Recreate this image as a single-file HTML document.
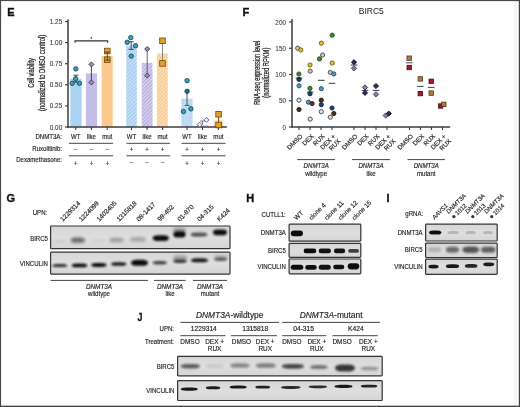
<!DOCTYPE html>
<html><head><meta charset="utf-8"><style>
html,body{margin:0;padding:0;background:#fff;}
svg{display:block;will-change:transform;}
text{font-family:"Liberation Sans", sans-serif;}
</style></head><body>
<svg width="520" height="407" viewBox="0 0 520 407">
<defs>
<pattern id="hb" width="2.6" height="2.6" patternUnits="userSpaceOnUse" patternTransform="rotate(45)"><rect width="2.6" height="2.6" fill="#cae3f8"/><rect width="1.2" height="2.6" fill="#9fc9ee"/></pattern>
<pattern id="hp" width="2.6" height="2.6" patternUnits="userSpaceOnUse" patternTransform="rotate(45)"><rect width="2.6" height="2.6" fill="#dcd6f0"/><rect width="1.2" height="2.6" fill="#b2aadf"/></pattern>
<pattern id="ho" width="2.6" height="2.6" patternUnits="userSpaceOnUse" patternTransform="rotate(45)"><rect width="2.6" height="2.6" fill="#fde3be"/><rect width="1.2" height="2.6" fill="#f7c588"/></pattern>
<pattern id="db" width="2.2" height="2.2" patternUnits="userSpaceOnUse" patternTransform="rotate(45)"><rect width="2.2" height="2.2" fill="#cfe5f8"/><rect width="1.1" height="1.1" fill="#a6cdee"/><rect x="1.1" y="1.1" width="1.1" height="1.1" fill="#b4d5f1"/></pattern>
<pattern id="do" width="2.2" height="2.2" patternUnits="userSpaceOnUse" patternTransform="rotate(45)"><rect width="2.2" height="2.2" fill="#fde4c0"/><rect width="1.1" height="1.1" fill="#f8ca8c"/><rect x="1.1" y="1.1" width="1.1" height="1.1" fill="#fad6a6"/></pattern>
<linearGradient id="bg" x1="0" y1="0" x2="0" y2="1"><stop offset="0" stop-color="#d6d6d6"/><stop offset="0.5" stop-color="#dedede"/><stop offset="1" stop-color="#d5d5d5"/></linearGradient>
<filter id="bl5" x="-50%" y="-100%" width="200%" height="300%"><feGaussianBlur stdDeviation="0.5"/></filter>
<filter id="bl6" x="-50%" y="-100%" width="200%" height="300%"><feGaussianBlur stdDeviation="0.6"/></filter>
<filter id="bl7" x="-50%" y="-100%" width="200%" height="300%"><feGaussianBlur stdDeviation="0.7"/></filter>
<filter id="bl8" x="-50%" y="-100%" width="200%" height="300%"><feGaussianBlur stdDeviation="0.8"/></filter>
<filter id="bl9" x="-50%" y="-100%" width="200%" height="300%"><feGaussianBlur stdDeviation="0.9"/></filter>
<filter id="bl10" x="-50%" y="-100%" width="200%" height="300%"><feGaussianBlur stdDeviation="1.0"/></filter>
<filter id="bl12" x="-50%" y="-100%" width="200%" height="300%"><feGaussianBlur stdDeviation="1.2"/></filter>
<filter id="bl13" x="-50%" y="-100%" width="200%" height="300%"><feGaussianBlur stdDeviation="1.3"/></filter>
<filter id="bl14" x="-50%" y="-100%" width="200%" height="300%"><feGaussianBlur stdDeviation="1.4"/></filter>
<filter id="bl15" x="-50%" y="-100%" width="200%" height="300%"><feGaussianBlur stdDeviation="1.5"/></filter>
<filter id="bl20" x="-50%" y="-100%" width="200%" height="300%"><feGaussianBlur stdDeviation="2.0"/></filter>
</defs>
<rect x="0" y="0" width="520" height="407" fill="#fff"/>
<rect x="514" y="0" width="3" height="407" fill="#f5f5f5"/>
<text font-size="11" text-anchor="start" font-weight="bold" fill="#111" stroke="#111" stroke-width="0.35" transform="translate(7.2 16.4)">E</text>
<rect x="70.30" y="78.70" width="11.30" height="48.30" fill="#acd3f2" stroke="none" stroke-width="0"/>
<rect x="85.90" y="73.30" width="11.10" height="53.70" fill="#c5bee6" stroke="none" stroke-width="0"/>
<rect x="101.60" y="55.80" width="11.10" height="71.20" fill="#fcc98c" stroke="none" stroke-width="0"/>
<rect x="126.20" y="45.50" width="10.60" height="81.50" fill="url(#hb)" stroke="none" stroke-width="0"/>
<rect x="141.70" y="62.90" width="10.80" height="64.10" fill="url(#hp)" stroke="none" stroke-width="0"/>
<rect x="156.90" y="53.50" width="10.90" height="73.50" fill="url(#ho)" stroke="none" stroke-width="0"/>
<rect x="181.30" y="98.60" width="11.30" height="28.40" fill="url(#db)" stroke="none" stroke-width="0"/>
<rect x="197.00" y="124.50" width="11.00" height="2.50" fill="#ddd8f0" stroke="none" stroke-width="0"/>
<rect x="213.60" y="120.30" width="9.80" height="6.70" fill="url(#do)" stroke="none" stroke-width="0"/>
<line x1="68" y1="19.4" x2="68" y2="127.6" stroke="#3c3c3c" stroke-width="1.5"/>
<line x1="67.3" y1="127" x2="226.8" y2="127" stroke="#3c3c3c" stroke-width="1.4"/>
<line x1="65.0" y1="127.0" x2="68" y2="127.0" stroke="#3c3c3c" stroke-width="1.2"/>
<text font-size="6.4" text-anchor="end" fill="#333" stroke="#333" stroke-width="0.08" transform="translate(62.2 129.5)">0.00</text>
<line x1="65.0" y1="105.9" x2="68" y2="105.9" stroke="#3c3c3c" stroke-width="1.2"/>
<text font-size="6.4" text-anchor="end" fill="#333" stroke="#333" stroke-width="0.08" transform="translate(62.2 108.4)">0.25</text>
<line x1="65.0" y1="84.8" x2="68" y2="84.8" stroke="#3c3c3c" stroke-width="1.2"/>
<text font-size="6.4" text-anchor="end" fill="#333" stroke="#333" stroke-width="0.08" transform="translate(62.2 87.3)">0.50</text>
<line x1="65.0" y1="63.699999999999996" x2="68" y2="63.699999999999996" stroke="#3c3c3c" stroke-width="1.2"/>
<text font-size="6.4" text-anchor="end" fill="#333" stroke="#333" stroke-width="0.08" transform="translate(62.2 66.19999999999999)">0.75</text>
<line x1="65.0" y1="42.599999999999994" x2="68" y2="42.599999999999994" stroke="#3c3c3c" stroke-width="1.2"/>
<text font-size="6.4" text-anchor="end" fill="#333" stroke="#333" stroke-width="0.08" transform="translate(62.2 45.099999999999994)">1.00</text>
<line x1="65.0" y1="21.5" x2="68" y2="21.5" stroke="#3c3c3c" stroke-width="1.2"/>
<text font-size="6.4" text-anchor="end" fill="#333" stroke="#333" stroke-width="0.08" transform="translate(62.2 24.0)">1.25</text>
<line x1="75.8" y1="127" x2="75.8" y2="130.0" stroke="#3c3c3c" stroke-width="1.1"/>
<line x1="91.4" y1="127" x2="91.4" y2="130.0" stroke="#3c3c3c" stroke-width="1.1"/>
<line x1="107.2" y1="127" x2="107.2" y2="130.0" stroke="#3c3c3c" stroke-width="1.1"/>
<line x1="131.5" y1="127" x2="131.5" y2="130.0" stroke="#3c3c3c" stroke-width="1.1"/>
<line x1="147.0" y1="127" x2="147.0" y2="130.0" stroke="#3c3c3c" stroke-width="1.1"/>
<line x1="162.6" y1="127" x2="162.6" y2="130.0" stroke="#3c3c3c" stroke-width="1.1"/>
<line x1="187.0" y1="127" x2="187.0" y2="130.0" stroke="#3c3c3c" stroke-width="1.1"/>
<line x1="202.5" y1="127" x2="202.5" y2="130.0" stroke="#3c3c3c" stroke-width="1.1"/>
<line x1="218.4" y1="127" x2="218.4" y2="130.0" stroke="#3c3c3c" stroke-width="1.1"/>
<text font-size="8.8" text-anchor="middle" fill="#222" stroke="#222" stroke-width="0.25" transform="translate(34.0 72.9) rotate(-90)" textLength="29.5" lengthAdjust="spacingAndGlyphs">Cell viability</text>
<text font-size="8.8" text-anchor="middle" fill="#222" stroke="#222" stroke-width="0.25" transform="translate(44.8 72.9) rotate(-90)" textLength="76" lengthAdjust="spacingAndGlyphs">(normalized to DMSO control)</text>
<path d="M75 42.8V40.9H107.6V42.8" fill="none" stroke="#333" stroke-width="1.1"/>
<text font-size="5" text-anchor="middle" fill="#333" stroke="#333" stroke-width="0.16" transform="translate(91.2 40.6) scale(0.81 1)">*</text>
<line x1="75.8" y1="75.2" x2="75.8" y2="82.2" stroke="#333" stroke-width="0.9"/>
<line x1="73.4" y1="75.2" x2="78.4" y2="75.2" stroke="#333" stroke-width="0.9"/>
<line x1="73.4" y1="82.2" x2="78.4" y2="82.2" stroke="#333" stroke-width="0.9"/>
<circle cx="75.8" cy="68.9" r="2.2" fill="#36a0b4" stroke="#174c5c" stroke-width="0.9"/>
<circle cx="75.6" cy="78.8" r="2.2" fill="#36a0b4" stroke="#174c5c" stroke-width="0.9"/>
<circle cx="72.2" cy="83.3" r="2.2" fill="#36a0b4" stroke="#174c5c" stroke-width="0.9"/>
<circle cx="79.4" cy="83.3" r="2.2" fill="#36a0b4" stroke="#174c5c" stroke-width="0.9"/>
<line x1="91.4" y1="64.4" x2="91.4" y2="82.5" stroke="#333" stroke-width="0.9"/>
<path d="M91.4 61.90L93.90 64.4L91.4 66.90L88.90 64.4Z" fill="#9a92bc" stroke="#342e50" stroke-width="0.9"/>
<path d="M91.4 80.00L93.90 82.5L91.4 85.00L88.90 82.5Z" fill="#9a92bc" stroke="#342e50" stroke-width="0.9"/>
<rect x="104.50" y="48.20" width="5.6" height="5.6" fill="#e3a128" stroke="#6a4810" stroke-width="0.8"/>
<rect x="104.50" y="56.90" width="5.6" height="5.6" fill="#e3a128" stroke="#6a4810" stroke-width="0.8"/>
<line x1="107.3" y1="52.1" x2="107.3" y2="60.2" stroke="#5a3a08" stroke-width="0.9"/>
<line x1="104.8" y1="52.1" x2="109.8" y2="52.1" stroke="#5a3a08" stroke-width="0.9"/>
<line x1="104.8" y1="60.2" x2="109.8" y2="60.2" stroke="#5a3a08" stroke-width="0.9"/>
<line x1="131.2" y1="41.7" x2="131.2" y2="49.4" stroke="#333" stroke-width="0.9"/>
<line x1="128.6" y1="41.7" x2="133.8" y2="41.7" stroke="#333" stroke-width="0.9"/>
<line x1="128.6" y1="49.4" x2="133.8" y2="49.4" stroke="#333" stroke-width="0.9"/>
<circle cx="130.8" cy="37.6" r="2.2" fill="#36a0b4" stroke="#174c5c" stroke-width="0.9"/>
<circle cx="127.2" cy="42.3" r="2.2" fill="#36a0b4" stroke="#174c5c" stroke-width="0.9"/>
<circle cx="135.5" cy="45.7" r="2.2" fill="#36a0b4" stroke="#174c5c" stroke-width="0.9"/>
<circle cx="131.2" cy="56.1" r="2.2" fill="#36a0b4" stroke="#174c5c" stroke-width="0.9"/>
<line x1="147.2" y1="49" x2="147.2" y2="75.6" stroke="#555" stroke-width="0.9"/>
<path d="M147.2 46.50L149.70 49L147.2 51.50L144.70 49Z" fill="#9a92bc" stroke="#342e50" stroke-width="0.9"/>
<path d="M147.2 73.10L149.70 75.6L147.2 78.10L144.70 75.6Z" fill="#9a92bc" stroke="#342e50" stroke-width="0.9"/>
<line x1="162.5" y1="40.8" x2="162.5" y2="63.4" stroke="#777" stroke-width="0.9"/>
<rect x="159.70" y="38.00" width="5.6" height="5.6" fill="#e3a128" stroke="#6a4810" stroke-width="0.8"/>
<rect x="159.70" y="60.60" width="5.6" height="5.6" fill="#e3a128" stroke="#6a4810" stroke-width="0.8"/>
<line x1="187" y1="91.5" x2="187" y2="105.4" stroke="#444" stroke-width="0.9"/>
<line x1="184.6" y1="105.4" x2="189.4" y2="105.4" stroke="#444" stroke-width="0.9"/>
<circle cx="187.1" cy="80.7" r="2.2" fill="#36a0b4" stroke="#174c5c" stroke-width="0.9"/>
<circle cx="183.4" cy="111.5" r="2.2" fill="#36a0b4" stroke="#174c5c" stroke-width="0.9"/>
<circle cx="190.9" cy="108.8" r="2.2" fill="#36a0b4" stroke="#174c5c" stroke-width="0.9"/>
<circle cx="187.1" cy="91.3" r="2.2" fill="#1f6f7e" stroke="#174a56" stroke-width="0.9"/>
<line x1="202.5" y1="121" x2="202.5" y2="124.6" stroke="#555" stroke-width="0.8"/>
<line x1="200.2" y1="121" x2="206" y2="121" stroke="#555" stroke-width="0.8"/>
<path d="M199.6 122.20L202.10 124.7L199.6 127.20L197.10 124.7Z" fill="#f0eef8" stroke="#5a5470" stroke-width="0.9"/>
<path d="M206.4 117.40L208.90 119.9L206.4 122.40L203.90 119.9Z" fill="#f0eef8" stroke="#5a5470" stroke-width="0.9"/>
<line x1="218.6" y1="114.2" x2="218.6" y2="125" stroke="#5a3a08" stroke-width="0.9"/>
<rect x="215.80" y="111.40" width="5.6" height="5.6" fill="#e3a128" stroke="#6a4810" stroke-width="0.8"/>
<rect x="215.80" y="122.20" width="5.6" height="5.6" fill="#e3a128" stroke="#6a4810" stroke-width="0.8"/>
<text font-size="7.5" text-anchor="end" fill="#222" stroke="#222" stroke-width="0.16" transform="translate(62.0 138.8) scale(0.81 1)">DNMT3A:</text>
<text font-size="7.5" text-anchor="end" fill="#222" stroke="#222" stroke-width="0.16" transform="translate(62.0 151.4) scale(0.81 1)">Ruxolitinib:</text>
<text font-size="7.5" text-anchor="end" fill="#222" stroke="#222" stroke-width="0.16" transform="translate(62.0 161.8) scale(0.81 1)">Dexamethasone:</text>
<text font-size="7.5" text-anchor="middle" fill="#222" stroke="#222" stroke-width="0.16" transform="translate(75.8 138.8) scale(0.81 1)">WT</text>
<text font-size="7.5" text-anchor="middle" fill="#333" stroke="#333" stroke-width="0.16" transform="translate(75.8 150.6) scale(0.81 1)">–</text>
<text font-size="7.5" text-anchor="middle" fill="#333" stroke="#333" stroke-width="0.16" transform="translate(75.8 165.7) scale(0.81 1)">+</text>
<text font-size="7.5" text-anchor="middle" fill="#222" stroke="#222" stroke-width="0.16" transform="translate(91.4 138.8) scale(0.81 1)">like</text>
<text font-size="7.5" text-anchor="middle" fill="#333" stroke="#333" stroke-width="0.16" transform="translate(91.4 150.6) scale(0.81 1)">–</text>
<text font-size="7.5" text-anchor="middle" fill="#333" stroke="#333" stroke-width="0.16" transform="translate(91.4 165.7) scale(0.81 1)">+</text>
<text font-size="7.5" text-anchor="middle" fill="#222" stroke="#222" stroke-width="0.16" transform="translate(107.2 138.8) scale(0.81 1)">mut</text>
<text font-size="7.5" text-anchor="middle" fill="#333" stroke="#333" stroke-width="0.16" transform="translate(107.2 150.6) scale(0.81 1)">–</text>
<text font-size="7.5" text-anchor="middle" fill="#333" stroke="#333" stroke-width="0.16" transform="translate(107.2 165.7) scale(0.81 1)">+</text>
<text font-size="7.5" text-anchor="middle" fill="#222" stroke="#222" stroke-width="0.16" transform="translate(131.5 138.8) scale(0.81 1)">WT</text>
<text font-size="7.5" text-anchor="middle" fill="#333" stroke="#333" stroke-width="0.16" transform="translate(131.5 152.3) scale(0.81 1)">+</text>
<text font-size="7.5" text-anchor="middle" fill="#333" stroke="#333" stroke-width="0.16" transform="translate(131.5 164.4) scale(0.81 1)">–</text>
<text font-size="7.5" text-anchor="middle" fill="#222" stroke="#222" stroke-width="0.16" transform="translate(147.0 138.8) scale(0.81 1)">like</text>
<text font-size="7.5" text-anchor="middle" fill="#333" stroke="#333" stroke-width="0.16" transform="translate(147.0 152.3) scale(0.81 1)">+</text>
<text font-size="7.5" text-anchor="middle" fill="#333" stroke="#333" stroke-width="0.16" transform="translate(147.0 164.4) scale(0.81 1)">–</text>
<text font-size="7.5" text-anchor="middle" fill="#222" stroke="#222" stroke-width="0.16" transform="translate(162.6 138.8) scale(0.81 1)">mut</text>
<text font-size="7.5" text-anchor="middle" fill="#333" stroke="#333" stroke-width="0.16" transform="translate(162.6 152.3) scale(0.81 1)">+</text>
<text font-size="7.5" text-anchor="middle" fill="#333" stroke="#333" stroke-width="0.16" transform="translate(162.6 164.4) scale(0.81 1)">–</text>
<text font-size="7.5" text-anchor="middle" fill="#222" stroke="#222" stroke-width="0.16" transform="translate(187.0 138.8) scale(0.81 1)">WT</text>
<text font-size="7.5" text-anchor="middle" fill="#333" stroke="#333" stroke-width="0.16" transform="translate(187.0 152.3) scale(0.81 1)">+</text>
<text font-size="7.5" text-anchor="middle" fill="#333" stroke="#333" stroke-width="0.16" transform="translate(187.0 165.7) scale(0.81 1)">+</text>
<text font-size="7.5" text-anchor="middle" fill="#222" stroke="#222" stroke-width="0.16" transform="translate(202.5 138.8) scale(0.81 1)">like</text>
<text font-size="7.5" text-anchor="middle" fill="#333" stroke="#333" stroke-width="0.16" transform="translate(202.5 152.3) scale(0.81 1)">+</text>
<text font-size="7.5" text-anchor="middle" fill="#333" stroke="#333" stroke-width="0.16" transform="translate(202.5 165.7) scale(0.81 1)">+</text>
<text font-size="7.5" text-anchor="middle" fill="#222" stroke="#222" stroke-width="0.16" transform="translate(218.4 138.8) scale(0.81 1)">mut</text>
<text font-size="7.5" text-anchor="middle" fill="#333" stroke="#333" stroke-width="0.16" transform="translate(218.4 152.3) scale(0.81 1)">+</text>
<text font-size="7.5" text-anchor="middle" fill="#333" stroke="#333" stroke-width="0.16" transform="translate(218.4 165.7) scale(0.81 1)">+</text>
<line x1="68.9" y1="143.3" x2="113.1" y2="143.3" stroke="#444" stroke-width="1"/>
<line x1="68.9" y1="155.8" x2="113.1" y2="155.8" stroke="#444" stroke-width="1"/>
<line x1="126.5" y1="143.3" x2="170" y2="143.3" stroke="#444" stroke-width="1"/>
<line x1="126.5" y1="155.8" x2="170" y2="155.8" stroke="#444" stroke-width="1"/>
<line x1="181.5" y1="143.3" x2="225.5" y2="143.3" stroke="#444" stroke-width="1"/>
<line x1="181.5" y1="155.8" x2="225.5" y2="155.8" stroke="#444" stroke-width="1"/>
<text font-size="11" text-anchor="start" font-weight="bold" fill="#111" stroke="#111" stroke-width="0.35" transform="translate(242.6 16.3)">F</text>
<text font-size="8.5" text-anchor="middle" fill="#222" stroke="#222" stroke-width="0.02" transform="translate(371.3 13.9)">BIRC5</text>
<line x1="292" y1="18.9" x2="292" y2="127.6" stroke="#3c3c3c" stroke-width="1.5"/>
<line x1="291.3" y1="127" x2="450.2" y2="127" stroke="#3c3c3c" stroke-width="1.4"/>
<line x1="289.0" y1="127.0" x2="292" y2="127.0" stroke="#3c3c3c" stroke-width="1.2"/>
<text font-size="6.4" text-anchor="end" fill="#333" stroke="#333" stroke-width="0.06" transform="translate(286.0 129.5)">0</text>
<line x1="289.0" y1="100.75" x2="292" y2="100.75" stroke="#3c3c3c" stroke-width="1.2"/>
<text font-size="6.4" text-anchor="end" fill="#333" stroke="#333" stroke-width="0.06" transform="translate(286.0 103.25)">50</text>
<line x1="289.0" y1="74.5" x2="292" y2="74.5" stroke="#3c3c3c" stroke-width="1.2"/>
<text font-size="6.4" text-anchor="end" fill="#333" stroke="#333" stroke-width="0.06" transform="translate(286.0 77.0)">100</text>
<line x1="289.0" y1="48.25" x2="292" y2="48.25" stroke="#3c3c3c" stroke-width="1.2"/>
<text font-size="6.4" text-anchor="end" fill="#333" stroke="#333" stroke-width="0.06" transform="translate(286.0 50.75)">150</text>
<line x1="289.0" y1="22.0" x2="292" y2="22.0" stroke="#3c3c3c" stroke-width="1.2"/>
<text font-size="6.4" text-anchor="end" fill="#333" stroke="#333" stroke-width="0.06" transform="translate(286.0 24.5)">200</text>
<text font-size="8.6" text-anchor="middle" fill="#222" stroke="#222" stroke-width="0.25" transform="translate(259.8 72.8) rotate(-90)" textLength="64" lengthAdjust="spacingAndGlyphs">RNA-seq expression level</text>
<text font-size="8.6" text-anchor="middle" fill="#222" stroke="#222" stroke-width="0.25" transform="translate(268.8 72.7) rotate(-90)" textLength="50" lengthAdjust="spacingAndGlyphs">(normalized RPKM)</text>
<line x1="299" y1="127" x2="299" y2="130.0" stroke="#3c3c3c" stroke-width="1.1"/>
<text font-size="6.4" text-anchor="end" fill="#222" stroke="#222" stroke-width="0.16" transform="translate(303.0 136.8) rotate(-45)">DMSO</text>
<line x1="310" y1="127" x2="310" y2="130.0" stroke="#3c3c3c" stroke-width="1.1"/>
<text font-size="6.4" text-anchor="end" fill="#222" stroke="#222" stroke-width="0.16" transform="translate(314.0 136.8) rotate(-45)">DEX</text>
<line x1="321" y1="127" x2="321" y2="130.0" stroke="#3c3c3c" stroke-width="1.1"/>
<text font-size="6.4" text-anchor="end" fill="#222" stroke="#222" stroke-width="0.16" transform="translate(325.0 136.8) rotate(-45)">RUX</text>
<line x1="332" y1="127" x2="332" y2="130.0" stroke="#3c3c3c" stroke-width="1.1"/>
<text font-size="6.4" text-anchor="end" fill="#222" stroke="#222" stroke-width="0.16" transform="translate(336.0 136.8) rotate(-45)">DEX +</text>
<text font-size="6.4" text-anchor="end" fill="#222" stroke="#222" stroke-width="0.16" transform="translate(341.0 141.5) rotate(-45)">RUX</text>
<line x1="354" y1="127" x2="354" y2="130.0" stroke="#3c3c3c" stroke-width="1.1"/>
<text font-size="6.4" text-anchor="end" fill="#222" stroke="#222" stroke-width="0.16" transform="translate(358.0 136.8) rotate(-45)">DMSO</text>
<line x1="365" y1="127" x2="365" y2="130.0" stroke="#3c3c3c" stroke-width="1.1"/>
<text font-size="6.4" text-anchor="end" fill="#222" stroke="#222" stroke-width="0.16" transform="translate(369.0 136.8) rotate(-45)">DEX</text>
<line x1="376" y1="127" x2="376" y2="130.0" stroke="#3c3c3c" stroke-width="1.1"/>
<text font-size="6.4" text-anchor="end" fill="#222" stroke="#222" stroke-width="0.16" transform="translate(380.0 136.8) rotate(-45)">RUX</text>
<line x1="387" y1="127" x2="387" y2="130.0" stroke="#3c3c3c" stroke-width="1.1"/>
<text font-size="6.4" text-anchor="end" fill="#222" stroke="#222" stroke-width="0.16" transform="translate(391.0 136.8) rotate(-45)">DEX +</text>
<text font-size="6.4" text-anchor="end" fill="#222" stroke="#222" stroke-width="0.16" transform="translate(396.0 141.5) rotate(-45)">RUX</text>
<line x1="409.5" y1="127" x2="409.5" y2="130.0" stroke="#3c3c3c" stroke-width="1.1"/>
<text font-size="6.4" text-anchor="end" fill="#222" stroke="#222" stroke-width="0.16" transform="translate(413.5 136.8) rotate(-45)">DMSO</text>
<line x1="420.5" y1="127" x2="420.5" y2="130.0" stroke="#3c3c3c" stroke-width="1.1"/>
<text font-size="6.4" text-anchor="end" fill="#222" stroke="#222" stroke-width="0.16" transform="translate(424.5 136.8) rotate(-45)">DEX</text>
<line x1="431.5" y1="127" x2="431.5" y2="130.0" stroke="#3c3c3c" stroke-width="1.1"/>
<text font-size="6.4" text-anchor="end" fill="#222" stroke="#222" stroke-width="0.16" transform="translate(435.5 136.8) rotate(-45)">RUX</text>
<line x1="442.5" y1="127" x2="442.5" y2="130.0" stroke="#3c3c3c" stroke-width="1.1"/>
<text font-size="6.4" text-anchor="end" fill="#222" stroke="#222" stroke-width="0.16" transform="translate(446.5 136.8) rotate(-45)">DEX +</text>
<text font-size="6.4" text-anchor="end" fill="#222" stroke="#222" stroke-width="0.16" transform="translate(451.5 141.5) rotate(-45)">RUX</text>
<line x1="297.3" y1="159.6" x2="335" y2="159.6" stroke="#444" stroke-width="1"/>
<text font-size="7.5" text-anchor="middle" font-style="italic" fill="#222" stroke="#222" stroke-width="0.16" transform="translate(316.15 167.5) scale(0.82 1)">DNMT3A</text>
<text font-size="7.5" text-anchor="middle" fill="#222" stroke="#222" stroke-width="0.16" transform="translate(316.15 175.7) scale(0.81 1)">wildtype</text>
<line x1="352" y1="159.6" x2="390" y2="159.6" stroke="#444" stroke-width="1"/>
<text font-size="7.5" text-anchor="middle" font-style="italic" fill="#222" stroke="#222" stroke-width="0.16" transform="translate(371.0 167.5) scale(0.82 1)">DNMT3A</text>
<text font-size="7.5" text-anchor="middle" fill="#222" stroke="#222" stroke-width="0.16" transform="translate(371.0 175.7) scale(0.81 1)">like</text>
<line x1="407.5" y1="159.6" x2="445" y2="159.6" stroke="#444" stroke-width="1"/>
<text font-size="7.5" text-anchor="middle" font-style="italic" fill="#222" stroke="#222" stroke-width="0.16" transform="translate(426.25 167.5) scale(0.82 1)">DNMT3A</text>
<text font-size="7.5" text-anchor="middle" fill="#222" stroke="#222" stroke-width="0.16" transform="translate(426.25 175.7) scale(0.81 1)">mutant</text>
<circle cx="297.6" cy="48.2" r="2.1" fill="#c8c8b4" stroke="#4a4a40" stroke-width="0.9"/>
<circle cx="300.8" cy="49.9" r="2.1" fill="#e2c232" stroke="#6a5a10" stroke-width="0.9"/>
<circle cx="298.9" cy="74" r="2.1" fill="#3f8a3a" stroke="#1e4a1a" stroke-width="0.9"/>
<circle cx="299" cy="79.4" r="2.1" fill="#1a4470" stroke="#0a2040" stroke-width="0.9"/>
<circle cx="299" cy="85.8" r="2.1" fill="#4e9cc0" stroke="#1e4a64" stroke-width="0.9"/>
<circle cx="299" cy="100.2" r="2.1" fill="#e6e6e6" stroke="#3c3c3c" stroke-width="0.9"/>
<circle cx="299" cy="109.5" r="2.1" fill="#4a2c18" stroke="#20120a" stroke-width="0.9"/>
<circle cx="310" cy="65" r="2.1" fill="#e2c232" stroke="#6a5a10" stroke-width="0.9"/>
<circle cx="310.2" cy="71.2" r="2.1" fill="#c8c8b4" stroke="#4a4a40" stroke-width="0.9"/>
<circle cx="310" cy="88.4" r="2.1" fill="#3f8a3a" stroke="#1e4a1a" stroke-width="0.9"/>
<circle cx="310" cy="93.8" r="2.1" fill="#1a4470" stroke="#0a2040" stroke-width="0.9"/>
<circle cx="308.4" cy="102.2" r="2.1" fill="#4e9cc0" stroke="#1e4a64" stroke-width="0.9"/>
<circle cx="312.1" cy="103.6" r="2.1" fill="#702830" stroke="#3a1018" stroke-width="0.9"/>
<circle cx="310.2" cy="119.1" r="2.1" fill="#e6e6e6" stroke="#3c3c3c" stroke-width="0.9"/>
<circle cx="321.4" cy="43.2" r="2.1" fill="#e2c232" stroke="#6a5a10" stroke-width="0.9"/>
<circle cx="322.6" cy="55" r="2.1" fill="#c8c8b4" stroke="#4a4a40" stroke-width="0.9"/>
<circle cx="319.5" cy="58.9" r="2.1" fill="#3f8a3a" stroke="#1e4a1a" stroke-width="0.9"/>
<circle cx="321.3" cy="88.7" r="2.1" fill="#4e9cc0" stroke="#1e4a64" stroke-width="0.9"/>
<circle cx="321.3" cy="100.2" r="2.1" fill="#4a2c18" stroke="#20120a" stroke-width="0.9"/>
<circle cx="321.3" cy="104.7" r="2.1" fill="#1a4470" stroke="#0a2040" stroke-width="0.9"/>
<circle cx="321.3" cy="111.7" r="2.1" fill="#e6e6e6" stroke="#3c3c3c" stroke-width="0.9"/>
<circle cx="332.2" cy="35.2" r="2.1" fill="#3f8a3a" stroke="#1e4a1a" stroke-width="0.9"/>
<circle cx="332.2" cy="63" r="2.1" fill="#e2c232" stroke="#6a5a10" stroke-width="0.9"/>
<circle cx="330.3" cy="72.4" r="2.1" fill="#c8c8b4" stroke="#4a4a40" stroke-width="0.9"/>
<circle cx="333.8" cy="73.9" r="2.1" fill="#4e9cc0" stroke="#1e4a64" stroke-width="0.9"/>
<circle cx="332" cy="108" r="2.1" fill="#1a4470" stroke="#0a2040" stroke-width="0.9"/>
<circle cx="333.8" cy="113.5" r="2.1" fill="#4a2c18" stroke="#20120a" stroke-width="0.9"/>
<circle cx="330.3" cy="117.2" r="2.1" fill="#e6e6e6" stroke="#3c3c3c" stroke-width="0.9"/>
<line x1="295.7" y1="78.1" x2="302.3" y2="78.1" stroke="#1a2030" stroke-width="0.9"/>
<line x1="306.9" y1="92.1" x2="313.5" y2="92.1" stroke="#1a2030" stroke-width="0.9"/>
<line x1="318.0" y1="80.3" x2="324.6" y2="80.3" stroke="#1a2030" stroke-width="0.9"/>
<line x1="328.7" y1="83.3" x2="335.3" y2="83.3" stroke="#1a2030" stroke-width="0.9"/>
<path d="M354 65.70L356.60 68.3L354 70.90L351.40 68.3Z" fill="#8a84a8" stroke="#3a3050" stroke-width="0.9"/>
<path d="M354 59.60L356.60 62.2L354 64.80L351.40 62.2Z" fill="#3c2350" stroke="#22102e" stroke-width="0.9"/>
<line x1="350.7" y1="65.0" x2="357.3" y2="65.0" stroke="#1a2030" stroke-width="0.9"/>
<path d="M365 84.80L367.60 87.4L365 90.00L362.40 87.4Z" fill="#8a84a8" stroke="#3a3050" stroke-width="0.9"/>
<path d="M365 90.30L367.60 92.9L365 95.50L362.40 92.9Z" fill="#3c2350" stroke="#22102e" stroke-width="0.9"/>
<line x1="361.7" y1="90.4" x2="368.3" y2="90.4" stroke="#1a2030" stroke-width="0.9"/>
<path d="M376 91.70L378.60 94.3L376 96.90L373.40 94.3Z" fill="#8a84a8" stroke="#3a3050" stroke-width="0.9"/>
<path d="M376 83.40L378.60 86.0L376 88.60L373.40 86.0Z" fill="#3c2350" stroke="#22102e" stroke-width="0.9"/>
<line x1="372.7" y1="90.4" x2="379.3" y2="90.4" stroke="#1a2030" stroke-width="0.9"/>
<path d="M385.7 112.90L388.30 115.5L385.7 118.10L383.10 115.5Z" fill="#8a84a8" stroke="#3a3050" stroke-width="0.9"/>
<path d="M388.8 111.00L391.40 113.6L388.8 116.20L386.20 113.6Z" fill="#3c2350" stroke="#22102e" stroke-width="0.9"/>
<rect x="407.00" y="56.00" width="4.4" height="4.4" fill="#b08040" stroke="#4a3010" stroke-width="0.8"/>
<rect x="407.00" y="65.30" width="4.4" height="4.4" fill="#a81828" stroke="#4a0a10" stroke-width="0.8"/>
<line x1="405.9" y1="62.8" x2="412.5" y2="62.8" stroke="#1a2a50" stroke-width="0.9"/>
<rect x="418.10" y="76.70" width="4.4" height="4.4" fill="#b08040" stroke="#4a3010" stroke-width="0.8"/>
<rect x="418.10" y="91.40" width="4.4" height="4.4" fill="#a81828" stroke="#4a0a10" stroke-width="0.8"/>
<line x1="417.0" y1="86.4" x2="423.6" y2="86.4" stroke="#1a2a50" stroke-width="0.9"/>
<rect x="429.00" y="90.90" width="4.4" height="4.4" fill="#b08040" stroke="#4a3010" stroke-width="0.8"/>
<rect x="429.00" y="79.10" width="4.4" height="4.4" fill="#a81828" stroke="#4a0a10" stroke-width="0.8"/>
<line x1="427.9" y1="87.4" x2="434.5" y2="87.4" stroke="#1a2a50" stroke-width="0.9"/>
<rect x="438.40" y="103.80" width="4.4" height="4.4" fill="#a81828" stroke="#4a0a10" stroke-width="0.8"/>
<rect x="441.60" y="102.10" width="4.4" height="4.4" fill="#b08040" stroke="#4a3010" stroke-width="0.8"/>
<text font-size="11" text-anchor="start" font-weight="bold" fill="#111" stroke="#111" stroke-width="0.35" transform="translate(6.4 202.2)">G</text>
<text font-size="7.5" text-anchor="end" fill="#222" stroke="#222" stroke-width="0.16" transform="translate(47.2 215.4) scale(0.81 1)">UPN:</text>
<text font-size="6.5" text-anchor="start" fill="#222" stroke="#222" stroke-width="0.16" transform="translate(62.8 221.7) rotate(-45)">1229314</text>
<text font-size="6.5" text-anchor="start" fill="#222" stroke="#222" stroke-width="0.16" transform="translate(81.5 221.7) rotate(-45)">1224099</text>
<text font-size="6.5" text-anchor="start" fill="#222" stroke="#222" stroke-width="0.16" transform="translate(99.2 221.7) rotate(-45)">1402405</text>
<text font-size="6.5" text-anchor="start" fill="#222" stroke="#222" stroke-width="0.16" transform="translate(119.2 221.7) rotate(-45)">1315818</text>
<text font-size="6.5" text-anchor="start" fill="#222" stroke="#222" stroke-width="0.16" transform="translate(139.0 221.7) rotate(-45)">08-1417</text>
<text font-size="6.5" text-anchor="start" fill="#222" stroke="#222" stroke-width="0.16" transform="translate(160.0 221.7) rotate(-45)">99-452</text>
<text font-size="6.5" text-anchor="start" fill="#222" stroke="#222" stroke-width="0.16" transform="translate(179.9 221.7) rotate(-45)">01-870</text>
<text font-size="6.5" text-anchor="start" fill="#222" stroke="#222" stroke-width="0.16" transform="translate(199.7 221.7) rotate(-45)">04-315</text>
<text font-size="6.5" text-anchor="start" fill="#222" stroke="#222" stroke-width="0.16" transform="translate(219.6 221.7) rotate(-45)">K424</text>
<rect x="50.60" y="226.00" width="179.40" height="22.70" fill="url(#bg)" stroke="#333" stroke-width="1.2" rx="0.8"/>
<rect x="50.60" y="252.20" width="179.40" height="21.90" fill="url(#bg)" stroke="#333" stroke-width="1.2" rx="0.8"/>
<text font-size="7.5" text-anchor="end" fill="#222" stroke="#222" stroke-width="0.16" transform="translate(48.0 241.3) scale(0.81 1)">BIRC5</text>
<text font-size="7.5" text-anchor="end" fill="#222" stroke="#222" stroke-width="0.16" transform="translate(48.0 265.8) scale(0.81 1)">VINCULIN</text>
<rect x="52.60" y="239.55" width="13.80" height="3.5" rx="4.42" ry="1.75" fill="#111" opacity="0.05" filter="url(#bl12)"/>
<rect x="91.50" y="238.85" width="14.50" height="3.5" rx="4.64" ry="1.75" fill="#111" opacity="0.04" filter="url(#bl12)"/>
<rect x="70.80" y="237.60" width="14.10" height="5.2" rx="4.51" ry="2.60" fill="#111" opacity="0.55" filter="url(#bl14)"/>
<rect x="109.40" y="237.70" width="14.40" height="4.6" rx="4.61" ry="2.30" fill="#111" opacity="0.3" filter="url(#bl14)"/>
<rect x="129.90" y="237.10" width="16.20" height="4.6" rx="5.18" ry="2.30" fill="#111" opacity="0.26" filter="url(#bl14)"/>
<rect x="152.50" y="235.20" width="16.50" height="5.8" rx="5.28" ry="2.90" fill="#111" opacity="1.0" filter="url(#bl9)"/>
<rect x="173.40" y="231.30" width="12.20" height="6.2" rx="3.90" ry="3.10" fill="#111" opacity="1.0" filter="url(#bl9)"/>
<rect x="190.70" y="232.40" width="16.60" height="4.4" rx="5.31" ry="2.20" fill="#111" opacity="0.65" filter="url(#bl9)"/>
<rect x="213.00" y="229.60" width="14.00" height="5.6" rx="4.48" ry="2.80" fill="#111" opacity="1.0" filter="url(#bl9)"/>
<rect x="173.20" y="227.60" width="12.60" height="6" rx="4.03" ry="3.00" fill="#111" opacity="0.3" filter="url(#bl14)"/>
<rect x="52.30" y="263.90" width="14.80" height="3.2" rx="4.74" ry="1.60" fill="#111" opacity="0.85" filter="url(#bl9)"/>
<rect x="71.80" y="263.45" width="15.40" height="3.9" rx="4.93" ry="1.95" fill="#111" opacity="1.0" filter="url(#bl9)"/>
<rect x="91.20" y="263.10" width="15.30" height="3.8" rx="4.90" ry="1.90" fill="#111" opacity="1.0" filter="url(#bl9)"/>
<rect x="111.10" y="262.35" width="15.30" height="3.5" rx="4.90" ry="1.75" fill="#111" opacity="0.95" filter="url(#bl9)"/>
<rect x="130.90" y="259.80" width="17.20" height="6.0" rx="5.50" ry="3.00" fill="#111" opacity="1.0" filter="url(#bl9)"/>
<rect x="152.70" y="261.10" width="14.10" height="3.4" rx="4.51" ry="1.70" fill="#111" opacity="0.75" filter="url(#bl9)"/>
<rect x="173.50" y="259.50" width="13.10" height="3.4" rx="4.19" ry="1.70" fill="#111" opacity="0.75" filter="url(#bl9)"/>
<rect x="190.70" y="258.35" width="17.60" height="3.9" rx="5.63" ry="1.95" fill="#111" opacity="0.95" filter="url(#bl9)"/>
<rect x="214.40" y="257.60" width="12.60" height="3.4" rx="4.03" ry="1.70" fill="#111" opacity="0.55" filter="url(#bl9)"/>
<rect x="173.00" y="255.60" width="14.00" height="6" rx="4.48" ry="3.00" fill="#111" opacity="0.3" filter="url(#bl15)"/>
<rect x="214.00" y="255.10" width="13.50" height="5" rx="4.32" ry="2.50" fill="#111" opacity="0.2" filter="url(#bl15)"/>
<line x1="50.5" y1="280.4" x2="148" y2="280.4" stroke="#444" stroke-width="1"/>
<text font-size="7.5" text-anchor="middle" font-style="italic" fill="#222" stroke="#222" stroke-width="0.16" transform="translate(99 289.0) scale(0.85 1)">DNMT3A</text>
<text font-size="7.5" text-anchor="middle" fill="#222" stroke="#222" stroke-width="0.16" transform="translate(99 296.2) scale(0.81 1)">wildtype</text>
<line x1="153.9" y1="280.4" x2="185.7" y2="280.4" stroke="#444" stroke-width="1"/>
<text font-size="7.5" text-anchor="middle" font-style="italic" fill="#222" stroke="#222" stroke-width="0.16" transform="translate(170 289.0) scale(0.85 1)">DNMT3A</text>
<text font-size="7.5" text-anchor="middle" fill="#222" stroke="#222" stroke-width="0.16" transform="translate(170 296.2) scale(0.81 1)">like</text>
<line x1="193" y1="280.4" x2="227" y2="280.4" stroke="#444" stroke-width="1"/>
<text font-size="7.5" text-anchor="middle" font-style="italic" fill="#222" stroke="#222" stroke-width="0.16" transform="translate(210 289.0) scale(0.85 1)">DNMT3A</text>
<text font-size="7.5" text-anchor="middle" fill="#222" stroke="#222" stroke-width="0.16" transform="translate(210 296.2) scale(0.81 1)">mutant</text>
<text font-size="11" text-anchor="start" font-weight="bold" fill="#111" stroke="#111" stroke-width="0.35" transform="translate(246.3 201.9)">H</text>
<text font-size="7.5" text-anchor="end" fill="#222" stroke="#222" stroke-width="0.16" transform="translate(285.8 217.4) scale(0.81 1)">CUTLL1:</text>
<text font-size="6.5" text-anchor="start" fill="#222" stroke="#222" stroke-width="0.16" transform="translate(296.6 220.5) rotate(-45)">WT</text>
<text font-size="6.5" text-anchor="start" fill="#222" stroke="#222" stroke-width="0.16" transform="translate(311.4 220.5) rotate(-45)">clone 4</text>
<text font-size="6.5" text-anchor="start" fill="#222" stroke="#222" stroke-width="0.16" transform="translate(326.9 220.5) rotate(-45)">clone 11</text>
<text font-size="6.5" text-anchor="start" fill="#222" stroke="#222" stroke-width="0.16" transform="translate(340.8 220.5) rotate(-45)">clone 12</text>
<text font-size="6.5" text-anchor="start" fill="#222" stroke="#222" stroke-width="0.16" transform="translate(354.5 220.5) rotate(-45)">clone 15</text>
<rect x="289.10" y="224.20" width="71.70" height="17.00" fill="url(#bg)" stroke="#333" stroke-width="1.2" rx="0.8"/>
<rect x="289.10" y="243.30" width="71.70" height="14.00" fill="url(#bg)" stroke="#333" stroke-width="1.2" rx="0.8"/>
<rect x="289.10" y="259.00" width="71.70" height="14.90" fill="url(#bg)" stroke="#333" stroke-width="1.2" rx="0.8"/>
<text font-size="7.5" text-anchor="end" fill="#222" stroke="#222" stroke-width="0.16" transform="translate(285.8 235.3) scale(0.81 1)">DNMT3A</text>
<text font-size="7.5" text-anchor="end" fill="#222" stroke="#222" stroke-width="0.16" transform="translate(285.8 252.8) scale(0.81 1)">BIRC5</text>
<text font-size="7.5" text-anchor="end" fill="#222" stroke="#222" stroke-width="0.16" transform="translate(285.8 269.0) scale(0.81 1)">VINCULIN</text>
<rect x="290.80" y="230.40" width="12.20" height="5.8" rx="2.90" ry="2.90" fill="#111" opacity="1.0" filter="url(#bl6)"/>
<rect x="303.60" y="248.60" width="12.70" height="4.6" rx="2.30" ry="2.30" fill="#111" opacity="1.0" filter="url(#bl6)"/>
<rect x="318.70" y="248.60" width="12.30" height="4.6" rx="2.30" ry="2.30" fill="#111" opacity="0.97" filter="url(#bl6)"/>
<rect x="333.90" y="248.60" width="11.30" height="4.6" rx="2.30" ry="2.30" fill="#111" opacity="0.97" filter="url(#bl6)"/>
<rect x="348.20" y="249.00" width="10.80" height="3.8" rx="1.90" ry="1.90" fill="#111" opacity="0.75" filter="url(#bl6)"/>
<rect x="290.70" y="264.70" width="12.60" height="5.0" rx="2.50" ry="2.50" fill="#111" opacity="1.0" filter="url(#bl6)"/>
<rect x="305.20" y="265.00" width="11.60" height="4.8" rx="2.40" ry="2.40" fill="#111" opacity="1.0" filter="url(#bl6)"/>
<rect x="318.70" y="264.70" width="12.10" height="5.0" rx="2.50" ry="2.50" fill="#111" opacity="0.97" filter="url(#bl6)"/>
<rect x="333.20" y="264.80" width="11.10" height="4.4" rx="2.20" ry="2.20" fill="#111" opacity="0.97" filter="url(#bl6)"/>
<rect x="347.70" y="263.20" width="11.60" height="6.2" rx="3.10" ry="3.10" fill="#111" opacity="1.0" filter="url(#bl6)"/>
<text font-size="11" text-anchor="start" font-weight="bold" fill="#111" stroke="#111" stroke-width="0.35" transform="translate(386.6 202.0)">I</text>
<text font-size="7.5" text-anchor="end" fill="#222" stroke="#222" stroke-width="0.16" transform="translate(423.2 215.7) scale(0.81 1)">gRNA:</text>
<text font-size="6.1" text-anchor="start" font-style="italic" fill="#222" stroke="#222" stroke-width="0.16" transform="translate(434.6 219.8) rotate(-45)">AAVS1</text>
<text font-size="6.1" text-anchor="start" font-style="italic" fill="#222" stroke="#222" stroke-width="0.16" transform="translate(448.6 214.0) rotate(-45)">DNMT3A</text>
<circle cx="453.90" cy="216.6" r="1.6" fill="#333"/>
<text font-size="6.1" text-anchor="start" fill="#222" stroke="#222" stroke-width="0.16" transform="translate(457.6 215.6) rotate(-45)">1012</text>
<text font-size="6.1" text-anchor="start" font-style="italic" fill="#222" stroke="#222" stroke-width="0.16" transform="translate(467.5 214.0) rotate(-45)">DNMT3A</text>
<circle cx="472.80" cy="216.6" r="1.6" fill="#333"/>
<text font-size="6.1" text-anchor="start" fill="#222" stroke="#222" stroke-width="0.16" transform="translate(476.5 215.6) rotate(-45)">1013</text>
<text font-size="6.1" text-anchor="start" font-style="italic" fill="#222" stroke="#222" stroke-width="0.16" transform="translate(486.40000000000003 214.0) rotate(-45)">DNMT3A</text>
<circle cx="491.70" cy="216.6" r="1.6" fill="#333"/>
<text font-size="6.1" text-anchor="start" fill="#222" stroke="#222" stroke-width="0.16" transform="translate(495.40000000000003 215.6) rotate(-45)">1014</text>
<rect x="425.60" y="224.20" width="71.60" height="16.80" fill="url(#bg)" stroke="#333" stroke-width="1.2" rx="0.8"/>
<rect x="425.60" y="243.20" width="71.60" height="14.30" fill="url(#bg)" stroke="#333" stroke-width="1.2" rx="0.8"/>
<rect x="425.60" y="259.20" width="71.60" height="15.10" fill="url(#bg)" stroke="#333" stroke-width="1.2" rx="0.8"/>
<text font-size="7.5" text-anchor="end" fill="#222" stroke="#222" stroke-width="0.16" transform="translate(422.6 234.5) scale(0.81 1)">DNMT3A</text>
<text font-size="7.5" text-anchor="end" fill="#222" stroke="#222" stroke-width="0.16" transform="translate(422.6 252.2) scale(0.81 1)">BIRC5</text>
<text font-size="7.5" text-anchor="end" fill="#222" stroke="#222" stroke-width="0.16" transform="translate(422.6 268.6) scale(0.81 1)">VINCULIN</text>
<rect x="429.10" y="230.40" width="12.20" height="4.2" rx="3.90" ry="2.10" fill="#111" opacity="1.0" filter="url(#bl7)"/>
<rect x="447.40" y="231.00" width="11.70" height="3" rx="3.74" ry="1.50" fill="#111" opacity="0.18" filter="url(#bl7)"/>
<rect x="465.70" y="231.00" width="10.20" height="3" rx="3.26" ry="1.50" fill="#111" opacity="0.18" filter="url(#bl7)"/>
<rect x="483.20" y="231.00" width="9.50" height="3" rx="3.04" ry="1.50" fill="#111" opacity="0.18" filter="url(#bl7)"/>
<rect x="427.70" y="247.30" width="13.80" height="5" rx="4.42" ry="2.50" fill="#111" opacity="0.2" filter="url(#bl10)"/>
<rect x="445.90" y="246.80" width="13.20" height="6" rx="4.22" ry="3.00" fill="#111" opacity="0.55" filter="url(#bl10)"/>
<rect x="462.30" y="246.55" width="17.00" height="6.5" rx="5.44" ry="3.25" fill="#111" opacity="0.65" filter="url(#bl10)"/>
<rect x="481.00" y="246.80" width="14.60" height="6" rx="4.67" ry="3.00" fill="#111" opacity="0.6" filter="url(#bl10)"/>
<rect x="428.40" y="264.70" width="10.20" height="3.8" rx="3.26" ry="1.90" fill="#111" opacity="0.95" filter="url(#bl7)"/>
<rect x="445.90" y="264.30" width="13.20" height="3.8" rx="4.22" ry="1.90" fill="#111" opacity="0.95" filter="url(#bl7)"/>
<rect x="464.90" y="264.00" width="12.50" height="3.8" rx="4.00" ry="1.90" fill="#111" opacity="0.88" filter="url(#bl7)"/>
<rect x="483.20" y="262.40" width="11.00" height="3.8" rx="3.52" ry="1.90" fill="#111" opacity="0.92" filter="url(#bl7)"/>
<text font-size="11" text-anchor="start" font-weight="bold" fill="#111" stroke="#111" stroke-width="0.3" transform="translate(137.6 320.9) scale(0.8 1)">J</text>
<text x="229.7" y="318.1" font-size="8.4" text-anchor="middle" fill="#222" stroke="#222" stroke-width="0.15"><tspan font-style="italic">DNMT3A</tspan>-wildtype</text>
<text x="331.1" y="318.1" font-size="8.4" text-anchor="middle" fill="#222" stroke="#222" stroke-width="0.15"><tspan font-style="italic">DNMT3A</tspan>-mutant</text>
<line x1="180.4" y1="322.4" x2="279" y2="322.4" stroke="#444" stroke-width="1"/>
<line x1="282.2" y1="322.4" x2="379.9" y2="322.4" stroke="#444" stroke-width="1"/>
<text font-size="7.5" text-anchor="end" fill="#222" stroke="#222" stroke-width="0.16" transform="translate(174.0 330.9) scale(0.81 1)">UPN:</text>
<text font-size="6.7" text-anchor="middle" fill="#222" stroke="#222" stroke-width="0.16" transform="translate(203.8 331.0)">1229314</text>
<text font-size="6.7" text-anchor="middle" fill="#222" stroke="#222" stroke-width="0.16" transform="translate(255.2 331.0)">1315818</text>
<text font-size="6.7" text-anchor="middle" fill="#222" stroke="#222" stroke-width="0.16" transform="translate(303.6 331.0)">04-315</text>
<text font-size="6.7" text-anchor="middle" fill="#222" stroke="#222" stroke-width="0.16" transform="translate(355.9 331.0)">K424</text>
<line x1="180.4" y1="335.7" x2="225.5" y2="335.7" stroke="#444" stroke-width="1"/>
<line x1="231" y1="335.7" x2="277" y2="335.7" stroke="#444" stroke-width="1"/>
<line x1="282.2" y1="335.7" x2="326.2" y2="335.7" stroke="#444" stroke-width="1"/>
<line x1="332.5" y1="335.7" x2="377.8" y2="335.7" stroke="#444" stroke-width="1"/>
<text font-size="7.5" text-anchor="end" fill="#222" stroke="#222" stroke-width="0.16" transform="translate(174.0 344.0) scale(0.81 1)">Treatment:</text>
<text font-size="7.0" text-anchor="middle" fill="#222" stroke="#222" stroke-width="0.16" transform="translate(190.0 343.6) scale(0.92 1)">DMSO</text>
<text font-size="7.0" text-anchor="middle" fill="#222" stroke="#222" stroke-width="0.16" transform="translate(241.4 343.6) scale(0.92 1)">DMSO</text>
<text font-size="7.0" text-anchor="middle" fill="#222" stroke="#222" stroke-width="0.16" transform="translate(291.8 343.6) scale(0.92 1)">DMSO</text>
<text font-size="7.0" text-anchor="middle" fill="#222" stroke="#222" stroke-width="0.16" transform="translate(342.1 343.6) scale(0.92 1)">DMSO</text>
<text font-size="7.0" text-anchor="middle" fill="#222" stroke="#222" stroke-width="0.16" transform="translate(214.6 343.6) scale(0.92 1)">DEX +</text>
<text font-size="7.0" text-anchor="middle" fill="#222" stroke="#222" stroke-width="0.16" transform="translate(214.6 351.3) scale(0.92 1)">RUX</text>
<text font-size="7.0" text-anchor="middle" fill="#222" stroke="#222" stroke-width="0.16" transform="translate(265.2 343.6) scale(0.92 1)">DEX +</text>
<text font-size="7.0" text-anchor="middle" fill="#222" stroke="#222" stroke-width="0.16" transform="translate(265.2 351.3) scale(0.92 1)">RUX</text>
<text font-size="7.0" text-anchor="middle" fill="#222" stroke="#222" stroke-width="0.16" transform="translate(316.8 343.6) scale(0.92 1)">DEX +</text>
<text font-size="7.0" text-anchor="middle" fill="#222" stroke="#222" stroke-width="0.16" transform="translate(316.8 351.3) scale(0.92 1)">RUX</text>
<text font-size="7.0" text-anchor="middle" fill="#222" stroke="#222" stroke-width="0.16" transform="translate(368.3 343.6) scale(0.92 1)">DEX +</text>
<text font-size="7.0" text-anchor="middle" fill="#222" stroke="#222" stroke-width="0.16" transform="translate(368.3 351.3) scale(0.92 1)">RUX</text>
<rect x="177.60" y="356.30" width="204.60" height="19.50" fill="url(#bg)" stroke="#333" stroke-width="1.2" rx="0.8"/>
<rect x="177.60" y="380.70" width="204.60" height="19.80" fill="url(#bg)" stroke="#333" stroke-width="1.2" rx="0.8"/>
<text font-size="7.5" text-anchor="end" fill="#222" stroke="#222" stroke-width="0.16" transform="translate(174.5 368.6) scale(0.81 1)">BIRC5</text>
<text font-size="7.5" text-anchor="end" fill="#222" stroke="#222" stroke-width="0.16" transform="translate(174.5 392.6) scale(0.81 1)">VINCULIN</text>
<rect x="180.50" y="363.95" width="19.60" height="4.5" rx="6.27" ry="2.25" fill="#111" opacity="0.62" filter="url(#bl9)"/>
<rect x="205.60" y="364.25" width="18.40" height="3.5" rx="5.89" ry="1.75" fill="#111" opacity="0.1" filter="url(#bl9)"/>
<rect x="230.00" y="363.35" width="19.90" height="4.5" rx="6.37" ry="2.25" fill="#111" opacity="0.4" filter="url(#bl9)"/>
<rect x="255.60" y="363.35" width="20.40" height="4.5" rx="6.53" ry="2.25" fill="#111" opacity="0.45" filter="url(#bl9)"/>
<rect x="281.80" y="363.90" width="22.20" height="4.8" rx="7.10" ry="2.40" fill="#111" opacity="0.72" filter="url(#bl9)"/>
<rect x="309.80" y="365.10" width="18.00" height="4" rx="5.76" ry="2.00" fill="#111" opacity="0.5" filter="url(#bl9)"/>
<rect x="335.00" y="364.60" width="20.00" height="6.8" rx="6.40" ry="3.40" fill="#111" opacity="0.8" filter="url(#bl9)"/>
<rect x="360.60" y="366.65" width="18.00" height="3.5" rx="5.76" ry="1.75" fill="#111" opacity="0.35" filter="url(#bl9)"/>
<rect x="180.80" y="387.50" width="17.00" height="3.2" rx="5.44" ry="1.60" fill="#111" opacity="0.95" filter="url(#bl7)"/>
<rect x="205.90" y="386.20" width="14.30" height="3.0" rx="4.58" ry="1.50" fill="#111" opacity="0.92" filter="url(#bl7)"/>
<rect x="229.70" y="385.40" width="17.00" height="3.2" rx="5.44" ry="1.60" fill="#111" opacity="0.95" filter="url(#bl7)"/>
<rect x="255.30" y="385.80" width="14.90" height="2.8" rx="4.77" ry="1.40" fill="#111" opacity="0.9" filter="url(#bl7)"/>
<rect x="281.00" y="385.90" width="19.60" height="3.0" rx="6.27" ry="1.50" fill="#111" opacity="0.85" filter="url(#bl7)"/>
<rect x="308.50" y="385.40" width="18.60" height="2.8" rx="5.95" ry="1.40" fill="#111" opacity="0.85" filter="url(#bl7)"/>
<rect x="334.50" y="384.70" width="18.00" height="3.4" rx="5.76" ry="1.70" fill="#111" opacity="0.95" filter="url(#bl7)"/>
<rect x="360.80" y="384.85" width="16.50" height="2.7" rx="5.28" ry="1.35" fill="#111" opacity="0.88" filter="url(#bl7)"/>
<rect x="0" y="0" width="520" height="1.1" fill="#4a4a4a"/><rect x="0" y="0" width="1.1" height="407" fill="#4a4a4a"/><rect x="518.8" y="0" width="1.2" height="407" fill="#404040"/><rect x="0" y="405.7" width="520" height="1.3" fill="#404040"/>
</svg>
</body></html>
